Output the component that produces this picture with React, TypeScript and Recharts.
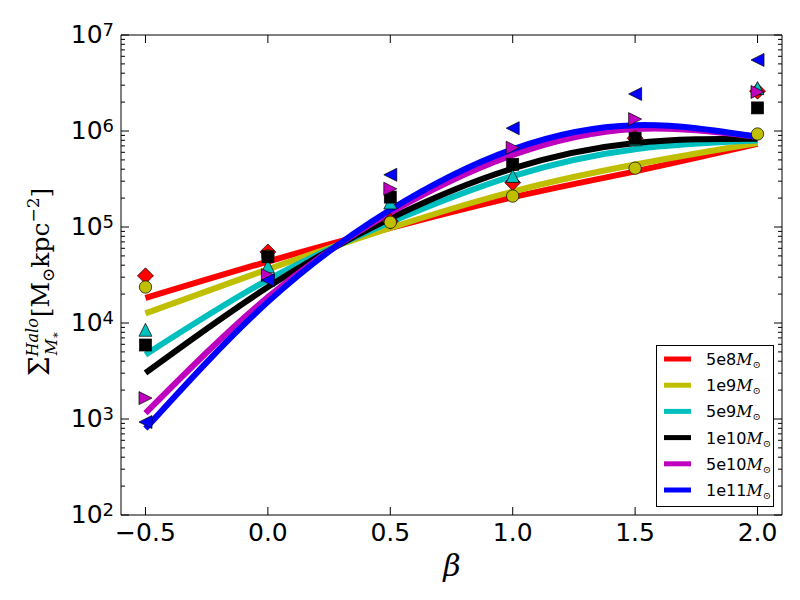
import React from 'react';
import { ComposedChart, Line, XAxis, YAxis } from 'recharts';

const betaValues = [-0.5, 0, 0.5, 1.0, 1.5, 2.0];
const xTicks = [-0.5, 0, 0.5, 1.0, 1.5, 2.0];
const xTickLabels = ['\u22120.5', '0.0', '0.5', '1.0', '1.5', '2.0'];
const yMajorTicks = [1e2, 1e3, 1e4, 1e5, 1e6, 1e7];
const yMajorExponents = ['2', '3', '4', '5', '6', '7'];
const yMinorMultipliers = [2, 3, 4, 5, 6, 7, 8, 9];

const massLabels = ['5e8', '1e9', '5e9', '1e10', '5e10', '1e11'];
const seriesColors = ['#ff0000', '#bfbf00', '#00bfbf', '#000000', '#bf00bf', '#0000ff'];
const markerShapes = ['diamond', 'circle', 'triangleUp', 'square', 'triangleRight', 'triangleLeft'];

// simulation points (markers)
const points5e8 = [3.1e4, 5.5e4, 1.15e5, 2.9e5, 8.4e5, 2.6e6];
const points1e9 = [2.37e4, 5.0e4, 1.12e5, 2.1e5, 4.1e5, 9.3e5];
const points5e9 = [8.5e3, 3.9e4, 1.8e5, 3.4e5, 8.2e5, 2.8e6];
const points1e10 = [5.9e3, 4.9e4, 2.05e5, 4.5e5, 8.4e5, 1.74e6];
const points5e10 = [1.65e3, 3.15e4, 2.5e5, 6.7e5, 1.33e6, 2.55e6];
const points1e11 = [930, 2.8e4, 3.5e5, 1.07e6, 2.43e6, 5.5e6];

// fitted curves
const fit5e8 = [1.82e4, 4.37e4, 9.77e4, 2.04e5, 3.8e5, 7.33e5];
const fit1e9 = [1.26e4, 3.63e4, 9.77e4, 2.34e5, 4.47e5, 7.5e5];
const fit5e9 = [4.68e3, 2.82e4, 1.12e5, 3.39e5, 6.46e5, 7.94e5];
const fit1e10 = [3.02e3, 2.37e4, 1.23e5, 4.07e5, 7.5e5, 8.32e5];
const fit5e10 = [1.15e3, 1.86e4, 1.41e5, 5.62e5, 1.05e6, 8.71e5];
const fit1e11 = [794, 1.66e4, 1.51e5, 6.46e5, 1.15e6, 8.71e5];

const pointSeries = [points5e8, points1e9, points5e9, points1e10, points5e10, points1e11];
const fitSeries = [fit5e8, fit1e9, fit5e9, fit1e10, fit5e10, fit1e11];

const yMinorTicks: number[] = [];
yMajorTicks.slice(0, -1).forEach((p) => yMinorMultipliers.forEach((m) => yMinorTicks.push(p * m)));
const yAllTicks = [...yMajorTicks, ...yMinorTicks];

const chartData = betaValues.map((b, i) => {
  const row: Record<string, number> = { beta: b };
  massLabels.forEach((m, k) => {
    row['p' + m] = pointSeries[k][i];
    row['f' + m] = fitSeries[k][i];
  });
  return row;
});

const SANS = 'DejaVu Sans';
const SERIF = 'DejaVu Serif';

function MarkerShape(props: any) {
  const { cx, cy, shape, color } = props;
  if (cx == null || cy == null) return null;
  const common = { fill: color, stroke: '#000', strokeWidth: 0.7 };
  switch (shape) {
    case 'diamond': {
      const r = 8;
      return <path d={`M${cx},${cy - r}L${cx + r},${cy}L${cx},${cy + r}L${cx - r},${cy}Z`} {...common} />;
    }
    case 'circle':
      return <circle cx={cx} cy={cy} r={6.2} {...common} />;
    case 'triangleUp': {
      const r = 6.5;
      return <path d={`M${cx},${cy - r}L${cx + r},${cy + r}L${cx - r},${cy + r}Z`} {...common} />;
    }
    case 'square': {
      const r = 6;
      return <rect x={cx - r} y={cy - r} width={2 * r} height={2 * r} {...common} />;
    }
    case 'triangleRight': {
      const r = 6.5;
      return <path d={`M${cx + r},${cy}L${cx - r},${cy - r}L${cx - r},${cy + r}Z`} {...common} />;
    }
    case 'triangleLeft': {
      const r = 6.5;
      return <path d={`M${cx - r},${cy}L${cx + r},${cy - r}L${cx + r},${cy + r}Z`} {...common} />;
    }
    default:
      return null;
  }
}

function BottomTick(props: any) {
  const { x, y, payload } = props;
  const idx = xTicks.indexOf(payload.value);
  return (
    <g>
      <line x1={x} y1={y} x2={x} y2={y - 8} stroke="#000" strokeWidth={1} />
      <text x={x} y={y + 26} textAnchor="middle" fontFamily={SANS} fontSize={25} fill="#000">
        {idx >= 0 ? xTickLabels[idx] : ''}
      </text>
    </g>
  );
}

function TopTick(props: any) {
  const { x, y } = props;
  return <line x1={x} y1={y} x2={x} y2={y + 8} stroke="#000" strokeWidth={1} />;
}

function LeftTick(props: any) {
  const { x, y, payload } = props;
  const idx = yMajorTicks.indexOf(payload.value);
  const major = idx >= 0;
  return (
    <g>
      <line x1={x} y1={y} x2={x + (major ? 8 : 4)} y2={y} stroke="#000" strokeWidth={1} />
      {major && (
        <text x={x - 7} y={y + 8} textAnchor="end" fontFamily={SANS} fontSize={25} fill="#000">
          <tspan>10</tspan>
          <tspan fontSize={18} dy={-7}>{yMajorExponents[idx]}</tspan>
        </text>
      )}
    </g>
  );
}

function RightTick(props: any) {
  const { x, y, payload } = props;
  const major = yMajorTicks.indexOf(payload.value) >= 0;
  return <line x1={x} y1={y} x2={x - (major ? 8 : 4)} y2={y} stroke="#000" strokeWidth={1} />;
}

export default function App() {
  return (
    <div style={{ position: 'absolute', left: 0, top: 0, width: 800, height: 600, background: '#fff' }}>
      <ComposedChart
        width={800}
        height={600}
        data={chartData}
        margin={{ top: 34, right: 17, bottom: 0, left: 0 }}
      >
        <XAxis
          xAxisId="b"
          dataKey="beta"
          type="number"
          domain={[-0.6, 2.1]}
          allowDataOverflow
          ticks={xTicks}
          interval={0}
          tickSize={0}
          tickMargin={0}
          tickLine={false}
          axisLine={{ stroke: '#000', strokeWidth: 1 }}
          tick={<BottomTick />}
          height={85}
        />
        <XAxis
          xAxisId="t"
          orientation="top"
          dataKey="beta"
          type="number"
          domain={[-0.6, 2.1]}
          allowDataOverflow
          ticks={xTicks}
          interval={0}
          tickSize={0}
          tickMargin={0}
          tickLine={false}
          axisLine={{ stroke: '#000', strokeWidth: 1 }}
          tick={<TopTick />}
          height={1}
        />
        <YAxis
          yAxisId="l"
          scale="log"
          type="number"
          domain={[1e2, 1e7]}
          allowDataOverflow
          ticks={yAllTicks}
          interval={0}
          tickSize={0}
          tickMargin={0}
          tickLine={false}
          axisLine={{ stroke: '#000', strokeWidth: 1 }}
          tick={<LeftTick />}
          width={121}
        />
        <YAxis
          yAxisId="r"
          orientation="right"
          scale="log"
          type="number"
          domain={[1e2, 1e7]}
          allowDataOverflow
          ticks={yAllTicks}
          interval={0}
          tickSize={0}
          tickMargin={0}
          tickLine={false}
          axisLine={{ stroke: '#000', strokeWidth: 1 }}
          tick={<RightTick />}
          width={1}
        />
        {massLabels.map((m, k) => [
          <Line
            key={'p' + m}
            xAxisId="b"
            yAxisId="l"
            dataKey={'p' + m}
            stroke="none"
            strokeWidth={0}
            isAnimationActive={false}
            activeDot={false}
            dot={(dp: any) => (
              <MarkerShape key={'d' + m + dp.index} cx={dp.cx} cy={dp.cy} shape={markerShapes[k]} color={seriesColors[k]} />
            )}
          />,
          <Line
            key={'f' + m}
            xAxisId="b"
            yAxisId="l"
            dataKey={'f' + m}
            type="natural"
            stroke={seriesColors[k]}
            strokeWidth={6}
            dot={false}
            activeDot={false}
            isAnimationActive={false}
          />,
        ])}
      </ComposedChart>
      <svg
        width={800}
        height={600}
        style={{ position: 'absolute', left: 0, top: 0, pointerEvents: 'none' }}
      >
        <text
          x={41}
          y={290}
          transform="rotate(-90, 41, 282)"
          textAnchor="middle"
          fontFamily={SERIF}
          fontSize={25}
          fill="#000"
        >
          <tspan fontSize={28}>Σ</tspan>
          <tspan fontSize={16} fontStyle="italic" dy={-11}>Halo</tspan>
          <tspan fontSize={16} fontStyle="italic" dx={-37} dy={19}>M</tspan>
          <tspan fontSize={11} dy={2}>∗</tspan>
          <tspan dx={14} dy={-10}>[M</tspan>
          <tspan fontSize={17} dy={5}>⊙</tspan>
          <tspan dy={-5}>kpc</tspan>
          <tspan fontSize={17} dy={-10}>−2</tspan>
          <tspan dy={10}>]</tspan>
        </text>
        <text x={452} y={576} textAnchor="middle" fontFamily={SERIF} fontStyle="italic" fontSize={30} fill="#000">
          β
        </text>
        <rect x={656.5} y={345.5} width={117} height={161} fill="#fff" stroke="#000" strokeWidth={1} />
        {massLabels.map((m, k) => {
          const cy = 359 + k * 26.2;
          return (
            <g key={'leg' + m}>
              <line x1={664} y1={cy} x2={691} y2={cy} stroke={seriesColors[k]} strokeWidth={5} />
              <text x={706} y={cy + 6} fontFamily={SANS} fontSize={16} fill="#000">
                <tspan>{m}</tspan>
                <tspan fontFamily={SERIF} fontStyle="italic" fontSize={16}>M</tspan>
                <tspan fontFamily={SERIF} fontSize={10} dy={3}>⊙</tspan>
              </text>
            </g>
          );
        })}
      </svg>
    </div>
  );
}
